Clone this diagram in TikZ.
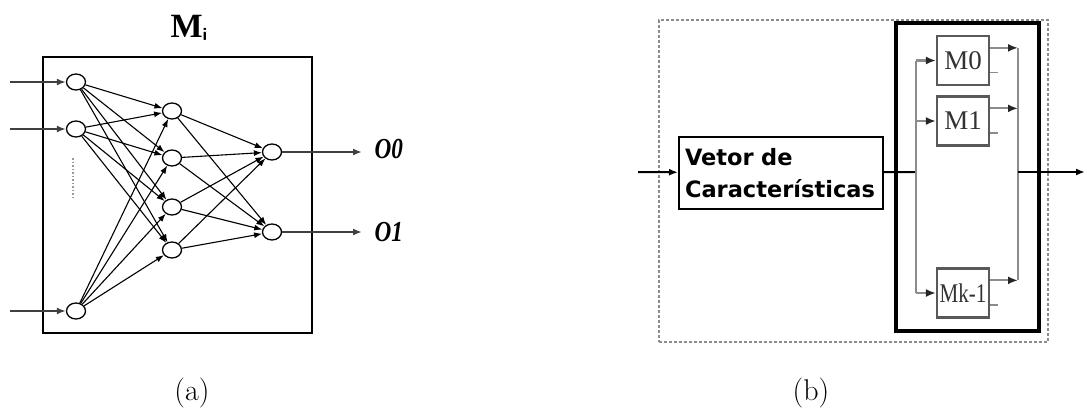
\documentclass[tikz,border=0pt]{standalone}
\usepackage{fontspec}
\newfontfamily\vetorfont{DejaVu Sans}
\newfontfamily\timesfont{Liberation Serif}
\usetikzlibrary{shapes.geometric,arrows.meta,positioning}

\tikzset{
  neuron/.style={ellipse, draw, line width=1.3pt, minimum width=19pt, minimum height=16pt, inner sep=0pt, fill=white},
  synapse/.style={-{Latex[length=8pt,width=6pt]}, line width=1.1pt},
  feed/.style={-{Latex[length=9pt,width=7pt]}, line width=2.2pt, draw=black!75},
  modbox/.style={draw=black!65, line width=2.2pt, minimum width=52pt, minimum height=49pt, inner sep=0pt,
    font=\timesfont\fontsize{27}{27}\selectfont, text=black!80},
  busline/.style={draw=black!45, line width=2.2pt},
  busarrow/.style={busline, -{Latex[length=10pt,width=8pt,color=black!85]}},
}

\begin{document}
\begin{tikzpicture}[x=1pt,y=-1pt]
  \useasboundingbox (0,0) rectangle (1088,415);

  % (a) the network M_i
  \node [draw, line width=2pt, minimum width=269pt, minimum height=276pt, inner sep=0pt](netbox) at (177.5,195) {};
  \node [anchor=base](title) at (189,37)
    {\timesfont\fontsize{34}{34}\selectfont\bfseries M\raisebox{-4pt}{\fontsize{18}{18}\selectfont\sffamily i}};

  \node [neuron](in1) at (76,82) {};
  \node [neuron](in2) at (76,129) {};
  \node [neuron](in3) at (76,311) {};

  \node [neuron](h1) at (172,111) {};
  \node [neuron](h2) at (172,158) {};
  \node [neuron](h3) at (172,207) {};
  \node [neuron](h4) at (172,250) {};

  \node [neuron](o1) at (272,152) {};
  \node [neuron](o2) at (272,232) {};

  % dotted ellipsis between the inputs
  \draw [black!40, line width=2pt, dash pattern=on 1.5pt off 2pt] (73,158) -- (73,197);

  \coordinate (x1) at (10,82);
  \coordinate (x2) at (10,129);
  \coordinate (x3) at (10,311);
  \coordinate (y1) at (362,152);
  \coordinate (y2) at (362,232);

  \foreach \i in {1,2,3}
    \draw [feed] (x\i) -- (in\i);

  \foreach \i in {1,2,3}
    \foreach \j in {1,2,3,4}
      \draw [synapse] (in\i) -- (h\j);

  \foreach \j in {1,2,3,4}
    \foreach \k in {1,2}
      \draw [synapse] (h\j) -- (o\k);

  \draw [feed] (o1) -- (y1);
  \draw [feed] (o2) -- (y2);

  \node [anchor=base west, font=\timesfont\fontsize{29}{29}\selectfont\bfseries\itshape](lo1) at (371,158) {\scalebox{0.8}[1]{O0}};
  \node [anchor=base west, font=\timesfont\fontsize{29}{29}\selectfont\bfseries\itshape](lo2) at (371,241) {\scalebox{0.8}[1]{O1}};

  \node [anchor=base, font=\fontsize{30}{30}\selectfont](capa) at (192,400) {(a)};

  % (b) the classifier with k modules
  \node [draw=black!45, line width=2.4pt, dash pattern=on 3pt off 2pt, minimum width=389pt, minimum height=322pt, inner sep=0pt](outer) at (853.5,181) {};
  \node [draw, line width=4pt, minimum width=143pt, minimum height=308pt, inner sep=0pt](bank) at (967.5,177) {};

  \node [draw, line width=2pt, minimum width=204pt, minimum height=72pt, inner xsep=6pt, text width=192pt, align=left,
    font=\vetorfont\bfseries\fontsize{22.5}{32}\selectfont](vetor) at (781,173) {Vetor de\\Características};

  \node [modbox](m0) at (963,60.5) {M0};
  \node [modbox](m1) at (963,121) {M1};
  \node [modbox](mk) at (963,293) {\scalebox{0.78}[1]{Mk-1}};

  \coordinate (inb) at (638,172);
  \coordinate (split) at (916,172);
  \coordinate (merge) at (1018,172);
  \coordinate (outb) at (1085,172);

  \draw [-{Latex[length=9pt,width=7pt]}, line width=2pt] (inb) -- (vetor);
  \draw [line width=2pt] (vetor) -- (split);

  \draw [busline] (split |- m0) -- (split |- mk);
  \draw [busarrow] (split |- m0) -- (m0);
  \draw [busarrow] (split |- m1) -- (m1);
  \draw [busarrow] (split |- mk) -- (mk);

  \draw [busline] (merge |- m0.25) -- (merge |- mk.25);
  \draw [busarrow] (m0.25) -- (m0.25 -| merge);
  \draw [busarrow] (m1.25) -- (m1.25 -| merge);
  \draw [busarrow] (mk.25) -- (mk.25 -| merge);

  % second outputs, left open
  \draw [black!45, line width=1.6pt] (m0.-24) -- ++(8,0);
  \draw [black!45, line width=1.6pt] (m1.-24) -- ++(8,0);
  \draw [black!45, line width=1.6pt] (mk.-24) -- ++(8,0);

  \draw [-{Latex[length=9pt,width=7pt]}, line width=2pt] (merge) -- (outb);

  \node [anchor=base, font=\fontsize{30}{30}\selectfont](capb) at (811,400) {(b)};
\end{tikzpicture}
\end{document}
